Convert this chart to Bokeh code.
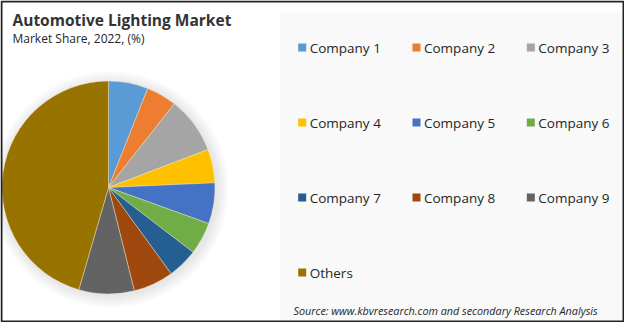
import math
from bokeh.plotting import figure
from bokeh.models import Range1d, ColumnDataSource
from bokeh.core.properties import value
from bokeh.embed import file_html
from bokeh.resources import INLINE

# ---- data ----
companies = ["Company 1", "Company 2", "Company 3", "Company 4", "Company 5",
             "Company 6", "Company 7", "Company 8", "Company 9", "Others"]
shares = [6.0, 4.6, 8.6, 5.1, 6.2, 4.9, 4.6, 6.1, 8.4, 45.5]
colors = ["#5B9BD5", "#ED7D31", "#A5A5A5", "#FFC000", "#4472C4",
          "#70AD47", "#255E91", "#9E480E", "#636363", "#997300"]
title_text = "Automotive Lighting Market"
subtitle_text = "Market Share, 2022, (%)"
source_text = "Source: www.kbvresearch.com and secondary Research Analysis"

W, H = 624, 322
p = figure(width=W, height=H, x_range=Range1d(0, W), y_range=Range1d(0, H),
           output_backend="svg", toolbar_location=None, min_border=0)
p.axis.visible = False
p.grid.visible = False
p.outline_line_color = None
p.background_fill_color = "white"
p.border_fill_color = "white"

# right panel background
p.quad(left=[280], right=[622], bottom=[2], top=[310], fill_color="#F9F9F9", line_color=None)

# pie
cx, cy, r = 108, 135, 106.5
# soft shadow
for k in range(8, 0, -1):
    p.circle(x=[cx + 2], y=[cy - 2], radius=r + k * 1.5, fill_color="#000000",
             fill_alpha=0.012, line_color=None)

total = sum(shares)
starts, ends = [], []
cum = 0.0
for s in shares:
    starts.append(math.pi / 2 - cum / total * 2 * math.pi)
    cum += s
    ends.append(math.pi / 2 - cum / total * 2 * math.pi)
src = ColumnDataSource(dict(start=starts, end=ends, color=colors, name=companies))
p.wedge(x=cx, y=cy, radius=r, start_angle="start", end_angle="end", direction="clock",
        fill_color="color", line_color="#F2EBD0", line_width=0.6, line_alpha=0.7, source=src)

# titles
p.text(x=[12], y=[303], text=[title_text], text_font=value("Open Sans"),
       text_font_style="bold", text_font_size="15.5px", text_color="#333333",
       text_baseline="middle")
p.text(x=[12], y=[284], text=[subtitle_text], text_font=value("Open Sans"),
       text_font_size="12px", text_color="#262626", text_baseline="middle")

# legend
lx, ly = [], []
for i, name in enumerate(companies):
    col, row = i % 3, i // 3
    lx.append(301.7 + col * 114.3)
    ly.append(275 - row * 75)
p.rect(x=lx, y=ly, width=8, height=8, fill_color=colors, line_color=None)
p.text(x=[x + 7.5 for x in lx], y=ly, text=companies, text_font=value("Open Sans"),
       text_font_size="13.5px", text_color="#262626", text_baseline="middle")

# source
p.text(x=[293], y=[12], text=[source_text], text_font=value("Open Sans"),
       text_font_style="italic", text_font_size="10.8px", text_color="#262626",
       text_baseline="middle")

# border
p.quad(left=[1], right=[623], bottom=[1], top=[321], fill_color=None,
       line_color="#222222", line_width=2)

open("out.html", "w").write(file_html(p, INLINE))
